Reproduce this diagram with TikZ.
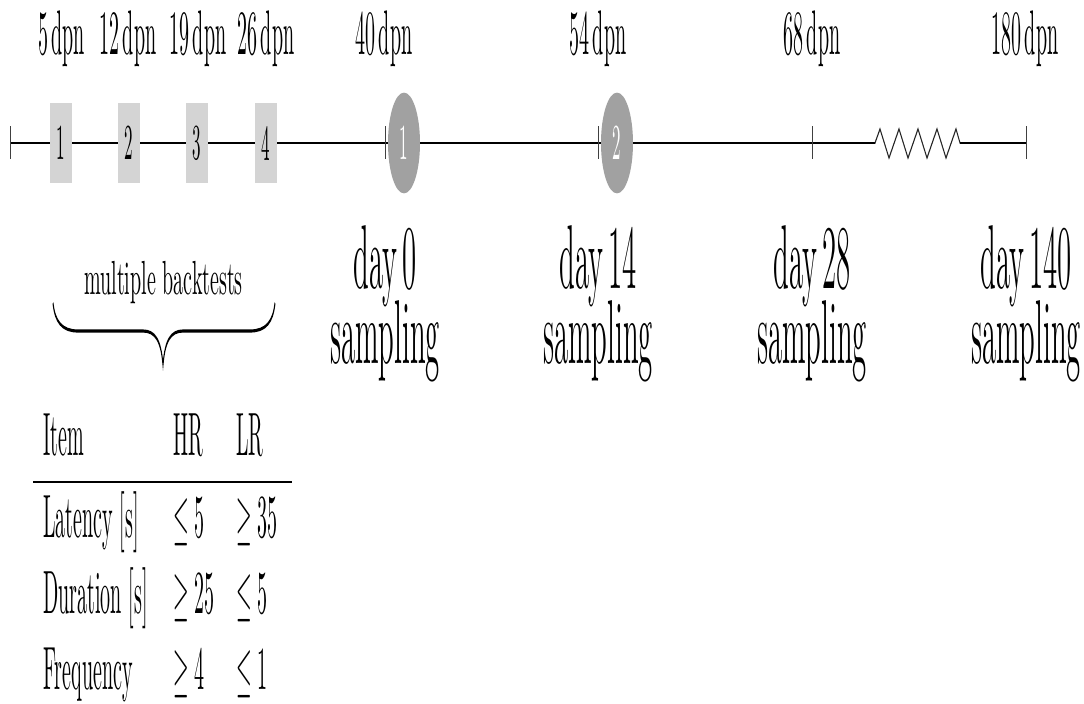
\documentclass[tikz,border=0pt]{standalone}
\usepackage{graphicx}
\definecolor{boxgray}{gray}{0.83}
\definecolor{circgray}{gray}{0.63}
\newcommand{\vsq}[2]{\scalebox{1}[#1]{#2}}
\tikzset{
  dpnlbl/.style={anchor=base, inner sep=0pt, font=\fontsize{10}{12}\selectfont},
  daylbl/.style={anchor=base, inner sep=0pt, font=\fontsize{14.4}{17}\selectfont},
  tbl/.style={anchor=base west, inner sep=0pt, font=\fontsize{10}{12}\selectfont},
  stepbox/.style={rectangle, fill=boxgray, minimum width=11pt, minimum height=12.7pt, inner sep=0pt, font=\footnotesize},
  sampcirc/.style={circle, fill=circgray, minimum size=16pt, inner sep=0pt, text=white, font=\footnotesize},
  tickmark/.style={line width=0.4pt, black!75},
  axisline/.style={line width=0.4pt, black}
}
\begin{document}
\begin{tikzpicture}[x=0.5pt,y=-0.5pt]
\useasboundingbox (0,0) rectangle (1084,704);
\begin{scope}[transform canvas={yscale=3.15}, y=-0.15873pt]
  % timeline coordinates
  \coordinate (t0) at (10,143);
  \coordinate (t1) at (385,143);
  \coordinate (t2) at (598,143);
  \coordinate (t3) at (812,143);
  \coordinate (t4) at (1026,143);
  \coordinate (z0) at (875,143);
  \coordinate (z1) at (960,143);
  % main line with break
  \draw[axisline] (t0) -- (z0);
  \draw[axisline, black!85] (z0) -- (880,129) -- (889,158) -- (899,129) -- (908,158) -- (918,129) -- (927,158) -- (937,129) -- (946,158) -- (956,129) -- (z1);
  \draw[axisline] (z1) -- (t4);
  % ticks
  \foreach \t in {t0,t1,t2,t3,t4}{
    \draw[tickmark] (\t) ++(0,-16.5) -- ++(0,33);
  }
  % backtest boxes
  \node[stepbox] (b1) at (61,143)    {1};
  \node[stepbox] (b2) at (128.5,143) {2};
  \node[stepbox] (b3) at (197,143)   {3};
  \node[stepbox] (b4) at (266,143)   {4};
  % sampling circles
  \node[sampcirc] (c1) at (404,143) {1};
  \node[sampcirc] (c2) at (617,143) {2};
  % dpn labels
  \node[dpnlbl] (l5)   at (61.5,55) {5\,dpn};
  \node[dpnlbl] (l12)  at (128,55)  {12\,dpn};
  \node[dpnlbl] (l19)  at (198,55)  {19\,dpn};
  \node[dpnlbl] (l26)  at (266,55)  {26\,dpn};
  \node[dpnlbl] (l40)  at (384,55)  {40\,dpn};
  \node[dpnlbl] (l54)  at (598,55)  {54\,dpn};
  \node[dpnlbl] (l68)  at (812,55)  {68\,dpn};
  \node[dpnlbl] (l180) at (1025,55) {180\,dpn};
  % day labels
  \node[daylbl] (d0a)   at (385,288)  {day\,0};
  \node[daylbl] (d0b)   at (385,363)  {sampling};
  \node[daylbl] (d14a)  at (598,288)  {day\,14};
  \node[daylbl] (d14b)  at (598,363)  {sampling};
  \node[daylbl] (d28a)  at (812,288)  {day\,28};
  \node[daylbl] (d28b)  at (812,363)  {sampling};
  \node[daylbl] (d140a) at (1026,288) {day\,140};
  \node[daylbl] (d140b) at (1026,363) {sampling};
  % brace with label
  \node[dpnlbl] (mb) at (163.5,294) {\vsq{0.76}{multiple backtests}};
  \draw[line width=0.5pt] (53,303) .. controls (55,322) and (62,331) .. (78,331)
    -- (143,331) .. controls (155,331) and (161,340) .. (163,365)
    .. controls (165,340) and (171,331) .. (183,331)
    -- (250,331) .. controls (266,331) and (273,322) .. (275,303);
  % table
  \node[tbl] (h1) at (43,455)  {\vsq{0.97}{Item}};
  \node[tbl] (h2) at (173,455) {\vsq{0.97}{HR}};
  \node[tbl] (h3) at (236,455) {\vsq{0.97}{LR}};
  \draw[line width=0.45pt] (33,482) -- (292,482);
  \node[tbl] (r1a) at (43,537)  {\vsq{0.97}{Latency [s]}};
  \node[tbl] (r1b) at (173,537) {\vsq{0.97}{$\leq 5$}};
  \node[tbl] (r1c) at (236,537) {\vsq{0.97}{$\geq 35$}};
  \node[tbl] (r2a) at (43,613)  {\vsq{0.97}{Duration [s]}};
  \node[tbl] (r2b) at (173,613) {\vsq{0.97}{$\geq 25$}};
  \node[tbl] (r2c) at (236,613) {\vsq{0.97}{$\leq 5$}};
  \node[tbl] (r3a) at (43,689)  {\vsq{0.97}{Frequency}};
  \node[tbl] (r3b) at (173,689) {\vsq{0.97}{$\geq 4$}};
  \node[tbl] (r3c) at (236,689) {\vsq{0.97}{$\leq 1$}};
\end{scope}
\end{tikzpicture}
\end{document}
